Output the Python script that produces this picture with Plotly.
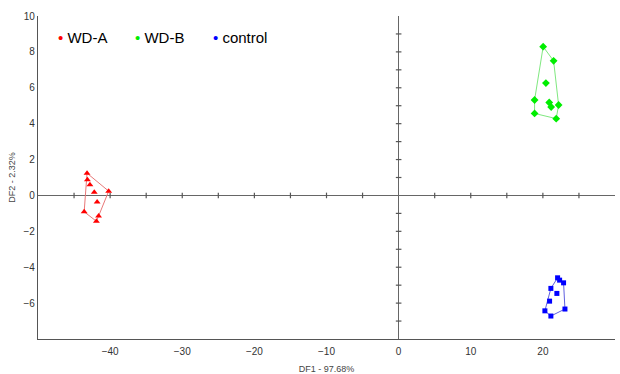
import plotly.graph_objects as go
import numpy as np

# ---- data ----
wda_x = [-43.2, -43.15, -42.8, -42.2, -40.2, -41.8, -43.6, -41.6, -41.9]
wda_y = [1.24, 0.87, 0.59, 0.18, 0.24, -0.37, -0.91, -1.15, -1.44]

wdb_x = [20.04, 21.49, 20.42, 18.85, 20.88, 21.15, 22.18, 18.85, 21.85]
wdb_y = [8.29, 7.50, 6.26, 5.32, 5.18, 4.93, 5.04, 4.57, 4.28]

ctl_x = [22.04, 22.32, 22.87, 21.11, 21.94, 20.93, 23.06, 20.28, 21.11]
ctl_y = [-4.59, -4.72, -4.87, -5.18, -5.46, -5.89, -6.33, -6.43, -6.72]

x_ticks = [-40, -30, -20, -10, 0, 10, 20, 30]
y_ticks = [-6, -4, -2, 0, 2, 4, 6, 8, 10]
x_minor = [-45, -40, -35, -30, -25, -20, -15, -10, -5, 5, 10, 15, 20, 25]
y_minor = [-7, -6, -5, -4, -3, -2, -1, 1, 2, 3, 4, 5, 6, 7, 8, 9]

groups = [
    ("WD-A", wda_x, wda_y, "#ff0000", "#e87878", "triangle-up", 6),
    ("WD-B", wdb_x, wdb_y, "#00ee00", "#80e880", "diamond", 6),
    ("control", ctl_x, ctl_y, "#0000ff", "#6060e0", "square", 5),
]


def hull(xs, ys):
    pts = sorted(set(zip(xs, ys)))

    def cross(o, a, b):
        return (a[0] - o[0]) * (b[1] - o[1]) - (a[1] - o[1]) * (b[0] - o[0])

    lower, upper = [], []
    for p in pts:
        while len(lower) >= 2 and cross(lower[-2], lower[-1], p) <= 0:
            lower.pop()
        lower.append(p)
    for p in reversed(pts):
        while len(upper) >= 2 and cross(upper[-2], upper[-1], p) <= 0:
            upper.pop()
        upper.append(p)
    h = lower[:-1] + upper[:-1]
    h.append(h[0])
    return [p[0] for p in h], [p[1] for p in h]


fig = go.Figure()

# tick marks on the zero lines
fig.add_trace(go.Scatter(x=x_minor, y=[0] * len(x_minor), mode="markers",
                         marker=dict(symbol="line-ns", size=4, line=dict(color="#555", width=1.2)),
                         showlegend=False, hoverinfo="skip"))
fig.add_trace(go.Scatter(x=[0] * len(y_minor), y=y_minor, mode="markers",
                         marker=dict(symbol="line-ew", size=4, line=dict(color="#555", width=1.2)),
                         showlegend=False, hoverinfo="skip"))

for name, xs, ys, col, lcol, sym, sz in groups:
    hx, hy = hull(xs, ys)
    fig.add_trace(go.Scatter(x=hx, y=hy, mode="lines", line=dict(color=lcol, width=1),
                             showlegend=False, hoverinfo="skip"))
    fig.add_trace(go.Scatter(x=xs, y=ys, mode="markers", name=name,
                             marker=dict(symbol=sym, size=sz, color=col),
                             showlegend=False))

# legend drawn as text
leg_x = [0.031, 0.1646, 0.2998]
for (name, xs, ys, col, lcol, sym, sz), lx in zip(groups, leg_x):
    fig.add_annotation(xref="paper", yref="paper", x=lx, y=0.932, xanchor="left", yanchor="middle",
                       showarrow=False,
                       text=f"<span style='color:{col}'>•</span> {name}",
                       font=dict(family="Liberation Sans, Arial", size=15, color="#000"))

axis_common = dict(showgrid=False, showline=True, linecolor="#555", linewidth=1.3,
                   ticks="", zeroline=True, zerolinecolor="#666", zerolinewidth=1.3,
                   tickfont=dict(family="Liberation Sans, Arial", size=10, color="#333"),
                   mirror=False, automargin=False)

fig.update_layout(
    width=620, height=374,
    margin=dict(l=38, r=5, t=16, b=35),
    plot_bgcolor="white", paper_bgcolor="white",
    showlegend=False,
    xaxis=dict(range=[-50, 30], tickvals=x_ticks, ticklabelstandoff=3,
               title=dict(text="DF1 - 97.68%", font=dict(family="Liberation Sans, Arial", size=9, color="#444"),
                          standoff=9),
               **axis_common),
    yaxis=dict(range=[-8, 10], tickvals=y_ticks,
               title=dict(text="DF2 - 2.32%", font=dict(family="Liberation Sans, Arial", size=9, color="#444"),
                          standoff=6),
               **axis_common),
)

fig.write_html("out.html", config={"displayModeBar": False},
               post_script="document.body.style.margin='0';document.body.style.padding='0';"
                           "document.documentElement.style.overflow='hidden';")
